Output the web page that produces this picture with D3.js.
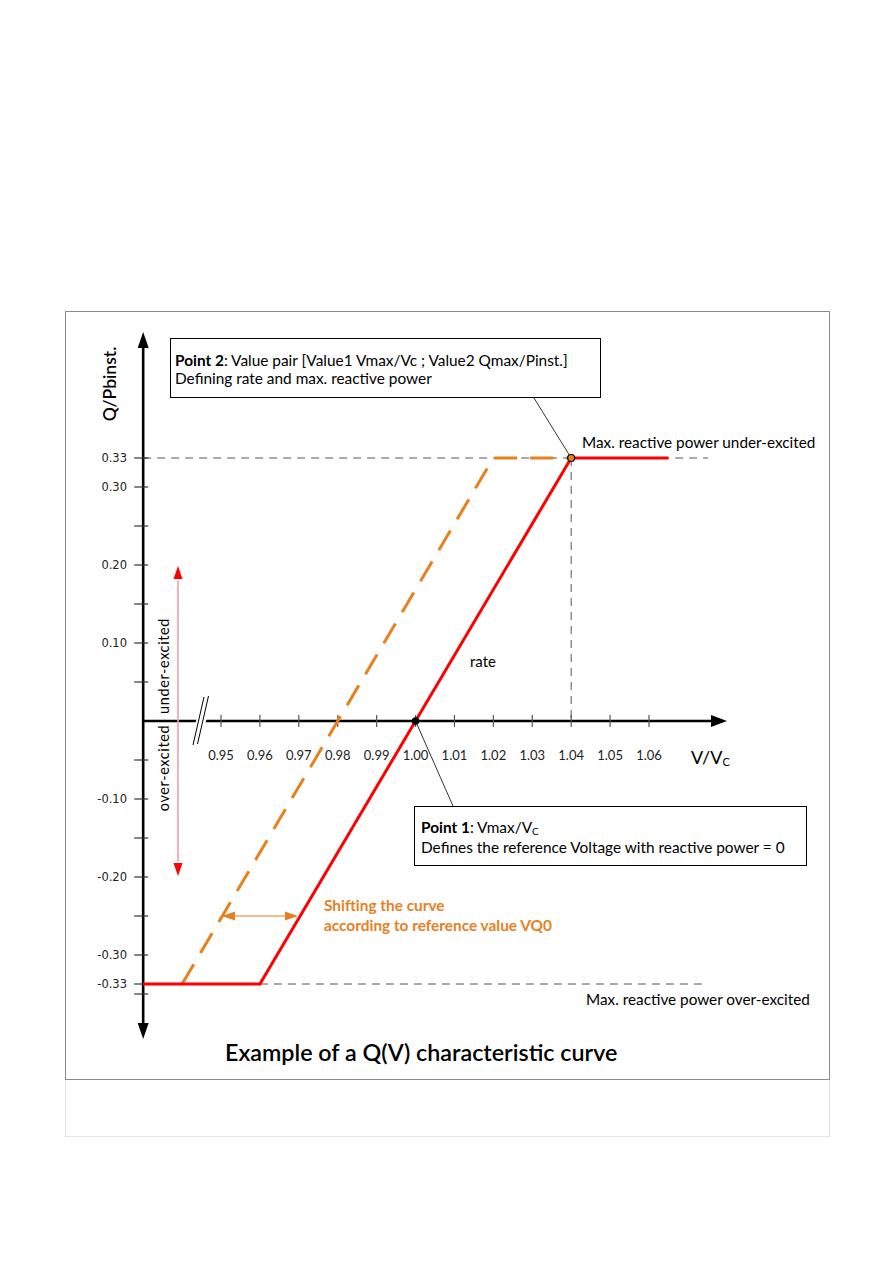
<!DOCTYPE html>
<html><head><meta charset="utf-8">
<script src="https://cdn.jsdelivr.net/npm/d3@7"></script>
<style>body{margin:0;background:#fff} svg{display:block}</style>
</head><body><svg id="c" width="893" height="1263"></svg>
<script>
// ---- data ----
const vTicks = [0.95,0.96,0.97,0.98,0.99,1.00,1.01,1.02,1.03,1.04,1.05,1.06];
const qTicks = [0.33,0.30,0.25,0.20,0.15,0.10,0.05,-0.05,-0.10,-0.15,-0.20,-0.25,-0.30,-0.33,-0.35];
const qLabels = [0.33,0.30,0.20,0.10,-0.10,-0.20,-0.30,-0.33];
const curveV = [0.93,0.96,1.04,1.065];
const curveQ = [-0.33,-0.33,0.33,0.33];
const shiftedV = [0.94,1.02,1.04];
const shiftedQ = [-0.33,0.33,0.33];
const point1 = {v:1.00, q:0};
const point2 = {v:1.04, q:0.33};
const qMax = 0.33, qMin = -0.33;

const FONT = "Lato, 'Open Sans', sans-serif";
const svg = d3.select("#c");
const fmt = d => d3.format(".2f")(d).replace("\u2212","-");

// scales (diagram is not strictly linear beyond +/-0.30)
const x = d3.scaleLinear().domain([0.95,1.06]).range([221,649]);
const y = d3.scaleLinear().domain([-0.35,-0.33,-0.30,0.30,0.33]).range([994,984,955,487,458]);

const x0 = x(0.93), y0 = y(0);

// frames
svg.append("rect").attr("x",65.5).attr("y",1079.5).attr("width",764).attr("height",57)
  .attr("fill","none").attr("stroke","#e3e3e3");
svg.append("rect").attr("x",65.5).attr("y",311.5).attr("width",764).attr("height",768)
  .attr("fill","#fff").attr("stroke","#8a8a8a");

// gray dashed guides
const guide = svg.append("g").attr("stroke","#555").attr("stroke-width",1).attr("stroke-dasharray","8,6").attr("fill","none");
guide.append("line").attr("x1",x0).attr("x2",x(1.0795)-17).attr("y1",y(qMax)).attr("y2",y(qMax));
guide.append("line").attr("x1",x(point2.v)).attr("x2",x(point2.v)).attr("y1",y(qMax)).attr("y2",y0);
guide.append("line").attr("x1",x(0.96)).attr("x2",x(1.0745)).attr("y1",y(qMin)).attr("y2",y(qMin));

// axes
const ax = svg.append("g");
// y axis
ax.append("line").attr("x1",x0).attr("x2",x0).attr("y1",1026).attr("y2",344).attr("stroke","#000").attr("stroke-width",2.6);
ax.append("path").attr("d",`M${x0},332 L${x0-5.5},348 L${x0+5.5},348 Z`).attr("fill","#000");
ax.append("path").attr("d",`M${x0},1039 L${x0-5.5},1023 L${x0+5.5},1023 Z`).attr("fill","#000");
// x axis
ax.append("line").attr("x1",x0).attr("x2",714).attr("y1",y0).attr("y2",y0).attr("stroke","#000").attr("stroke-width",2.4);
ax.append("path").attr("d",`M727,${y0} L711,${y0-6} L711,${y0+6} Z`).attr("fill","#000");

// y ticks & labels
ax.selectAll(".yt").data(qTicks).join("line").attr("class","yt")
  .attr("x1",x0-9).attr("x2",x0+5).attr("y1",d=>y(d)).attr("y2",d=>y(d)).attr("stroke","#333").attr("stroke-width",1.2);
ax.selectAll(".yl").data(qLabels).join("text").attr("class","yl")
  .attr("x",127).attr("y",d=>y(d)+4).attr("text-anchor","end")
  .attr("font-family","'DejaVu Sans', sans-serif").attr("font-size",11.5).attr("fill","#222")
  .text(fmt);

// x ticks & labels
ax.selectAll(".xt").data(vTicks).join("line").attr("class","xt")
  .attr("x1",d=>x(d)).attr("x2",d=>x(d)).attr("y1",y0-6).attr("y2",y0+6).attr("stroke","#555").attr("stroke-width",1.2);
ax.selectAll(".xl").data(vTicks).join("text").attr("class","xl")
  .attr("x",d=>x(d)).attr("y",y0+39).attr("text-anchor","middle")
  .attr("font-family",FONT).attr("font-size",13).attr("fill","#222")
  .text(fmt);

// axis break
const bx = 201;
ax.append("path").attr("d",`M${bx-6},${y0+3} L${bx+4},${y0+3} L${bx+6},${y0-3} L${bx-4},${y0-3} Z`).attr("fill","#fff");
ax.append("line").attr("x1",193).attr("y1",745).attr("x2",204).attr("y2",697).attr("stroke","#000").attr("stroke-width",1);
ax.append("line").attr("x1",197.5).attr("y1",744).attr("x2",208.5).attr("y2",696).attr("stroke","#000").attr("stroke-width",1);

// axis titles
svg.append("text").attr("transform",`translate(116,384) rotate(-90)`).attr("text-anchor","middle")
  .attr("font-family",FONT).attr("font-size",17.5).attr("font-weight",600).text("Q/Pbinst.");
const vt = svg.append("text").attr("x",691).attr("y",764).attr("font-family",FONT).attr("font-size",18);
vt.append("tspan").text("V/V");
vt.append("tspan").attr("font-size",11).attr("dy",2).text("C");

// shifted curve (orange dashed)
const line = d3.line().x(d=>x(d[0])).y(d=>y(d[1]));
svg.append("path").datum(d3.zip(shiftedV,shiftedQ)).attr("d",line)
  .attr("fill","none").attr("stroke","#E8801F").attr("stroke-width",3).attr("stroke-dasharray","23,13");
// characteristic curve (red)
svg.append("path").datum(d3.zip(curveV,curveQ)).attr("d",line)
  .attr("fill","none").attr("stroke","#FF0000").attr("stroke-width",3).attr("stroke-linejoin","miter");

// excitation arrow
const ex = 178;
svg.append("line").attr("x1",ex).attr("x2",ex).attr("y1",y(0.19)+8).attr("y2",y(-0.19)-8).attr("stroke","#F3A0A6").attr("stroke-width",1.6);
svg.append("path").attr("d",`M${ex},${y(0.2)+1} L${ex-4.5},${y(0.2)+14} L${ex+4.5},${y(0.2)+14} Z`).attr("fill","#FF0000");
svg.append("path").attr("d",`M${ex},${y(-0.2)-1} L${ex-4.5},${y(-0.2)-14} L${ex+4.5},${y(-0.2)-14} Z`).attr("fill","#FF0000");
svg.append("text").attr("transform",`translate(169,666) rotate(-90)`).attr("text-anchor","middle")
  .attr("font-family",FONT).attr("font-size",14.5).attr("letter-spacing",0.6).text("under-excited");
svg.append("text").attr("transform",`translate(169,768) rotate(-90)`).attr("text-anchor","middle")
  .attr("font-family",FONT).attr("font-size",14.5).attr("letter-spacing",0.6).text("over-excited");

// shift arrow (orange)
const sy = 916;
svg.append("line").attr("x1",224).attr("x2",296).attr("y1",sy).attr("y2",sy).attr("stroke","#F1A86A").attr("stroke-width",1.6);
svg.append("path").attr("d",`M222,${sy} L235,${sy-4.5} L235,${sy+4.5} Z`).attr("fill","#E8801F");
svg.append("path").attr("d",`M298,${sy} L285,${sy-4.5} L285,${sy+4.5} Z`).attr("fill","#E8801F");
const st = svg.append("text").attr("font-family",FONT).attr("font-size",15.4).attr("font-weight",700).attr("fill","#E8801F");
st.append("tspan").attr("x",324).attr("y",911).text("Shifting the curve");
st.append("tspan").attr("x",324).attr("y",931).text("according to reference value VQ0");

// rate
svg.append("text").attr("x",470).attr("y",667).attr("font-family",FONT).attr("font-size",15).text("rate");

// leaders & points
svg.append("line").attr("x1",534).attr("y1",398).attr("x2",x(point2.v)).attr("y2",y(point2.q)).attr("stroke","#000").attr("stroke-width",0.8);
svg.append("line").attr("x1",x(point1.v)).attr("y1",y(point1.q)).attr("x2",453).attr("y2",806).attr("stroke","#000").attr("stroke-width",0.8);
svg.append("circle").attr("cx",x(point1.v)).attr("cy",y(point1.q)).attr("r",3.8).attr("fill","#000");
svg.append("circle").attr("cx",x(point2.v)).attr("cy",y(point2.q)).attr("r",3.5).attr("fill","#E8801F").attr("stroke","#000").attr("stroke-width",1.2);

// callout boxes
svg.append("rect").attr("x",170.5).attr("y",338.5).attr("width",430).attr("height",59).attr("fill","#fff").attr("stroke","#000").attr("stroke-width",1);
const t2 = svg.append("text").attr("font-family",FONT).attr("font-size",15.4);
const l1 = t2.append("tspan").attr("x",175).attr("y",366);
l1.append("tspan").attr("font-weight",700).text("Point 2");
l1.append("tspan").text(": Value pair [Value1 Vmax/Vc ; Value2 Qmax/Pinst.]");
t2.append("tspan").attr("x",175).attr("y",384).text("Defining rate and max. reactive power");

svg.append("rect").attr("x",414.5).attr("y",806.5).attr("width",392).attr("height",59).attr("fill","#fff").attr("stroke","#000").attr("stroke-width",1);
const t1 = svg.append("text").attr("font-family",FONT).attr("font-size",15.4);
t1.append("tspan").attr("x",421).attr("y",833).attr("font-weight",700).text("Point 1");
t1.append("tspan").text(": Vmax/V");
t1.append("tspan").attr("font-size",10).attr("dy",2).text("C");
t1.append("tspan").attr("x",421).attr("y",853).text("Defines the reference Voltage with reactive power = 0");

// max labels
svg.append("text").attr("x",582).attr("y",448).attr("font-family",FONT).attr("font-size",15.3).text("Max. reactive power under-excited");
svg.append("text").attr("x",586).attr("y",1005).attr("font-family",FONT).attr("font-size",15.3).text("Max. reactive power over-excited");

// title
svg.append("text").attr("x",225).attr("y",1061).attr("font-family",FONT).attr("font-size",23.3).attr("font-weight",600).text("Example of a Q(V) characteristic curve");
</script></body></html>
